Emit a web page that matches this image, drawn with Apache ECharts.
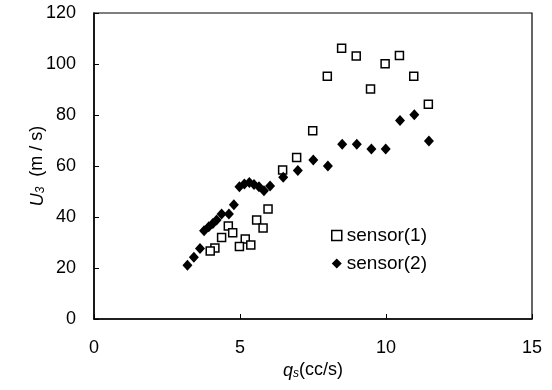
<!DOCTYPE html>
<html><head><meta charset="utf-8">
<script src="https://cdn.jsdelivr.net/npm/echarts@6/dist/echarts.min.js"></script>
<style>html,body{margin:0;padding:0;background:#fff}#c{width:552px;height:390px}</style>
</head><body><div id="c"></div>
<script>
const sensor1X = [8.48, 8.98, 7.99, 9.97, 10.46, 9.47, 10.95, 11.45, 7.49, 6.94, 6.46, 5.96, 5.57, 5.79, 4.60, 4.75, 4.37, 5.18, 5.37, 4.98, 4.14, 3.98];
const sensor1Y = [106.2, 103.1, 95.2, 100.1, 103.3, 90.2, 95.2, 84.2, 73.8, 63.3, 58.4, 43.1, 38.8, 35.7, 36.5, 33.8, 32.0, 31.4, 29.0, 28.4, 27.8, 26.7];
const sensor2X = [10.48, 10.97, 11.47, 8.5, 9.0, 9.5, 9.99, 7.51, 8.01, 6.98, 6.48, 4.98, 5.15, 5.32, 5.48, 5.65, 5.82, 6.03, 4.79, 4.62, 4.37, 4.20, 4.07, 3.93, 3.77, 3.63, 3.42, 3.20];
const sensor2Y = [77.8, 80.1, 69.8, 68.5, 68.5, 66.7, 66.7, 62.4, 60.0, 58.2, 55.6, 51.9, 52.9, 53.5, 52.7, 51.9, 50.3, 52.2, 44.8, 41.2, 41.2, 38.8, 37.5, 36.2, 34.6, 27.6, 24.2, 21.1];
const xTicks = [0, 5, 10, 15];
const yTicks = [0, 20, 40, 60, 80, 100, 120];

const pairs = (xs, ys) => xs.map((x, i) => [x, ys[i]]);
const font = 'Liberation Sans, Arial, sans-serif';
const nameRich = {
  i: {fontFamily: font, fontSize: 18, fontStyle: 'italic', color: '#000'},
  s: {fontFamily: font, fontSize: 12, fontStyle: 'italic', color: '#000', verticalAlign: 'bottom', padding: [7, 0, 0, 0]},
  n: {fontFamily: font, fontSize: 18, color: '#000'}
};
const chart = echarts.init(document.getElementById('c'), null, {renderer: 'canvas'});
chart.setOption({
  animation: false,
  backgroundColor: '#fff',
  grid: {left: 94, right: 20, top: 13, bottom: 71, show: true, borderColor: '#000', borderWidth: 1.2},
  legend: {
    orient: 'vertical', left: 326, top: 221, itemGap: 9, itemWidth: 10, itemHeight: 10,
    textStyle: {fontFamily: font, fontSize: 19, color: '#000'},
    data: [
      {name: 'sensor(1)', icon: 'rect', itemStyle: {color: '#fff', borderColor: '#000', borderWidth: 1.5}},
      {name: 'sensor(2)', icon: 'diamond', itemStyle: {color: '#000', borderWidth: 0}}
    ]
  },
  xAxis: {
    type: 'value', min: xTicks[0], max: xTicks[xTicks.length - 1], interval: 5,
    axisLine: {show: true, lineStyle: {color: '#000', width: 1.5}},
    axisTick: {show: true, inside: true, length: 5, lineStyle: {color: '#000'}},
    splitLine: {show: false},
    axisLabel: {fontFamily: font, fontSize: 18, color: '#000', margin: 20, showMinLabel: true, showMaxLabel: true},
    name: '{i|q}{s|s}{n|(cc/s)}', nameLocation: 'middle', nameGap: 42, nameMoveOverlap: false,
    nameTextStyle: {rich: nameRich}
  },
  yAxis: {
    type: 'value', min: yTicks[0], max: yTicks[yTicks.length - 1], interval: 20,
    axisLine: {show: true, lineStyle: {color: '#000', width: 1.5}},
    axisTick: {show: true, inside: true, length: 5, lineStyle: {color: '#000'}},
    splitLine: {show: false},
    axisLabel: {fontFamily: font, fontSize: 18, color: '#000', margin: 18},
    name: '{i|U}{s|3}{n|  (m / s)}', nameLocation: 'middle', nameGap: 47, nameRotate: 90, nameMoveOverlap: false,
    nameTextStyle: {rich: nameRich}
  },
  series: [
    {name: 'sensor(1)', type: 'scatter', symbol: 'rect', symbolSize: 8,
     itemStyle: {color: '#fff', borderColor: '#000', borderWidth: 1.5, opacity: 1},
     data: pairs(sensor1X, sensor1Y), z: 2},
    {name: 'sensor(2)', type: 'scatter', symbol: 'diamond', symbolSize: [10, 11],
     itemStyle: {color: '#000', opacity: 1},
     data: pairs(sensor2X, sensor2Y), z: 3}
  ]
});
</script></body></html>
